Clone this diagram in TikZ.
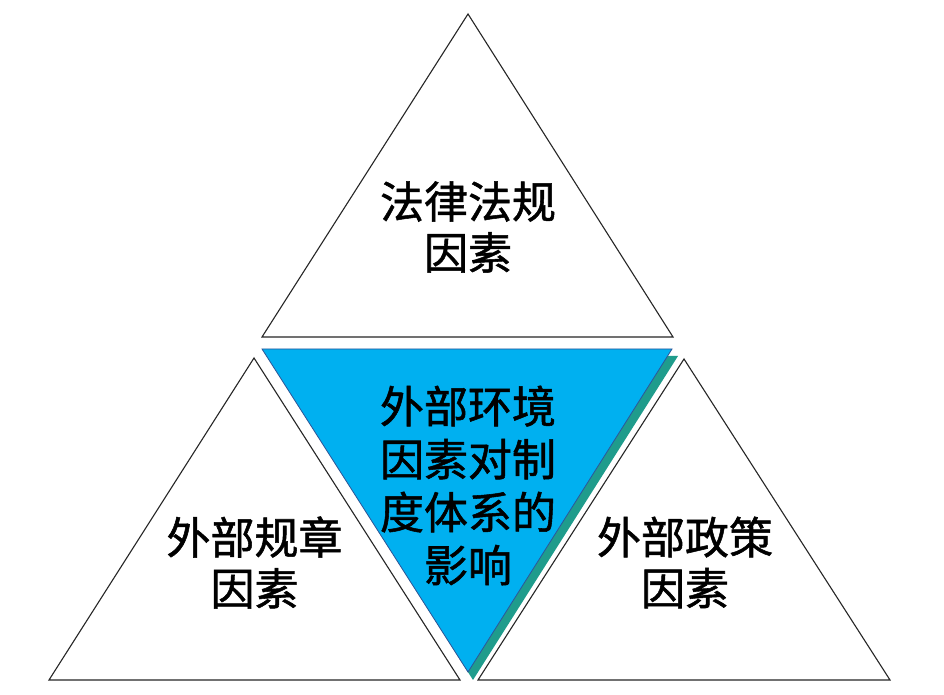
\documentclass[tikz,border=0pt]{standalone}
\usepackage{fontspec}
\newfontfamily\cjk[FakeBold=1.2]{Noto Sans CJK SC}
\definecolor{triblue}{HTML}{00B0F0}
\definecolor{triedge}{HTML}{2F5597}
\definecolor{shadowteal}{HTML}{1F9C8C}
\begin{document}
\begin{tikzpicture}[x=1pt,y=1pt,
  tri/.style={draw=black!85, line width=1.1pt, fill=white, line join=miter},
  lbl/.style={font=\cjk\fontsize{44}{51}\selectfont, align=center, text=black, inner sep=0pt},
  clbl/.style={font=\cjk\fontsize{44}{53}\selectfont, align=center, text=black, inner sep=0pt}]
\useasboundingbox (0,0) rectangle (944,695);
\fill[white] (0,0) rectangle (944,695);
% outer triangles
\draw[tri] (262,358) -- (468,681) -- (673,358) -- cycle;
\draw[tri] (49,15) -- (254,337) -- (460,15) -- cycle;
\draw[tri] (478,15) -- (684,336) -- (890,15) -- cycle;
% shadow of the central triangle
\fill[shadowteal] (267,339) -- (678,339) -- (473,15) -- cycle;
% central inverted triangle
\draw[fill=triblue, draw=triedge, line width=0.8pt] (262,346) -- (672,346) -- (468,23) -- cycle;
% labels
\node[lbl] (law) at (468,468) {法律法规\\因素};
\node[lbl] (rule) at (254.5,132.5) {外部规章\\因素};
\node[lbl] (policy) at (685,132.5) {外部政策\\因素};
\node[clbl] (center) at (468,209.5) {外部环境\\因素对制\\度体系的\\影响};
\end{tikzpicture}
\end{document}
